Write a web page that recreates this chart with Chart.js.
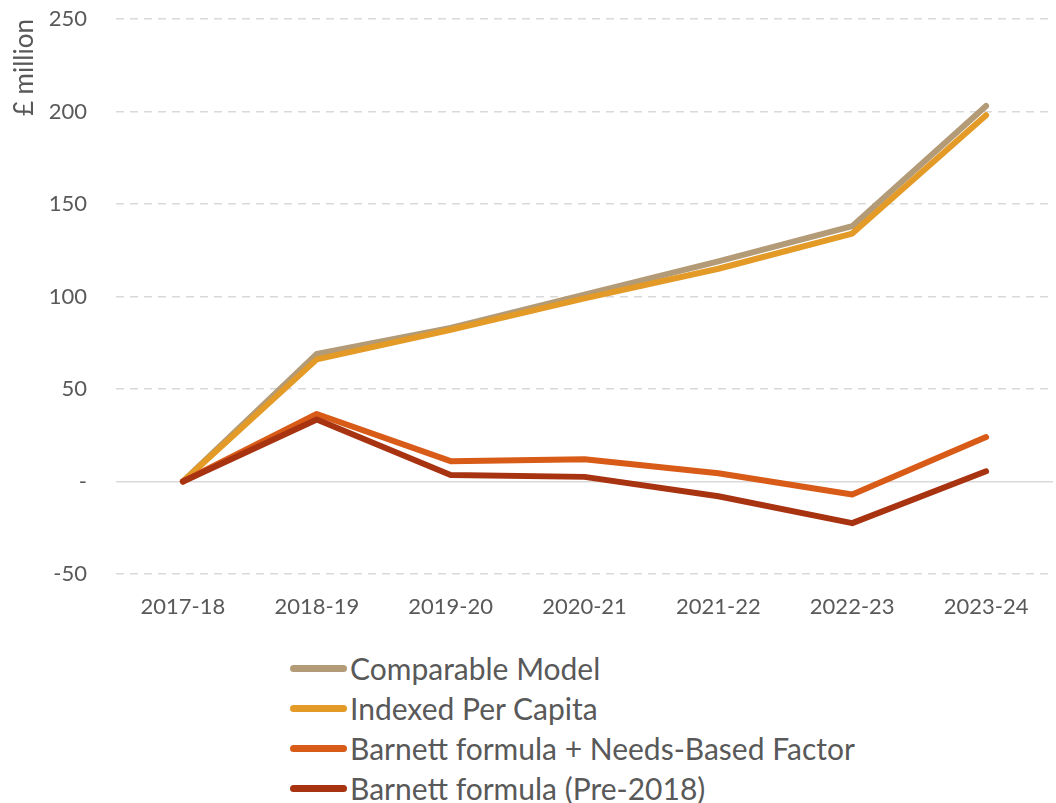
<!DOCTYPE html>
<html>
<head>
<meta charset="utf-8">
<script src="https://cdn.jsdelivr.net/npm/chart.js@4"></script>
<style>
  html, body { margin: 0; padding: 0; background: #ffffff; }
  #wrap { position: relative; width: 1056px; height: 803px; font-family: Lato, "Open Sans", sans-serif; }
  #chartBox { position: absolute; left: 0; top: 0; width: 1056px; height: 640px; }
  #legend { position: absolute; left: 290px; top: 648px; margin: 0; padding: 0; list-style: none; }
  #legend li { display: flex; align-items: center; height: 40px; font-size: 30px; color: #595959; white-space: nowrap; }
  #legend .sw { display: inline-block; width: 57px; height: 7px; border-radius: 3.5px; margin-right: 3px; }
</style>
</head>
<body>
<div id="wrap">
  <div id="chartBox"><canvas id="c"></canvas></div>
  <ul id="legend"></ul>
</div>
<script>
const categories = ["2017-18", "2018-19", "2019-20", "2020-21", "2021-22", "2022-23", "2023-24"];
const seriesNames = ["Comparable Model", "Indexed Per Capita", "Barnett formula + Needs-Based Factor", "Barnett formula (Pre-2018)"];
const comparableModel = [0, 69, 83, 101, 119, 138, 203];
const indexedPerCapita = [0, 66, 82, 99, 115, 134, 198];
const barnettNeeds = [0, 36.5, 11, 12, 4.5, -7, 24];
const barnettPre2018 = [0, 33.5, 3.5, 2.5, -8, -22.5, 5.5];
const seriesColors = ["#B39B78", "#E39A26", "#D85B18", "#A83311"];
const yTicks = { min: -50, max: 250, step: 50 };

const seriesData = [comparableModel, indexedPerCapita, barnettNeeds, barnettPre2018];

const datasets = seriesNames.map((name, i) => ({
  label: name,
  data: seriesData[i],
  borderColor: seriesColors[i],
  backgroundColor: seriesColors[i],
  borderWidth: 6,
  pointRadius: 0,
  pointHoverRadius: 0,
  tension: 0,
  fill: false,
  borderCapStyle: 'round',
  borderJoinStyle: 'round',
  order: seriesNames.length - i
}));

const chart = new Chart(document.getElementById('c'), {
  type: 'line',
  data: { labels: categories, datasets: datasets },
  options: {
    responsive: true,
    maintainAspectRatio: false,
    animation: false,
    layout: { padding: { top: 0, right: 3, left: 0, bottom: 0 } },
    plugins: {
      legend: { display: false },
      tooltip: { enabled: false }
    },
    scales: {
      x: {
        offset: true,
        grid: { display: false, drawTicks: false },
        border: { display: false },
        ticks: {
          color: '#595959',
          font: { family: 'Lato, "Open Sans", sans-serif', size: 22 },
          padding: 20,
          maxRotation: 0
        },
        afterFit: (s) => { s.height = 66; }
      },
      y: {
        min: yTicks.min,
        max: yTicks.max,
        grid: {
          drawTicks: false,
          lineWidth: 1.5,
          color: '#D9D9D9'
        },
        border: { display: false, dash: (ctx) => (ctx.tick && ctx.tick.value === 0 ? [] : [8, 6]) },
        ticks: {
          stepSize: yTicks.step,
          color: '#595959',
          font: { family: 'Lato, "Open Sans", sans-serif', size: 22 },
          padding: 29,
          callback: (v) => (v === 0 ? '-' : v)
        },
        title: {
          display: true,
          text: '£ million',
          align: 'end',
          color: '#595959',
          font: { family: 'Lato, "Open Sans", sans-serif', size: 26 },
          padding: { top: 9, bottom: 0 }
        },
        afterFit: (s) => { s.width = 116; s.paddingTop = 19; s.paddingBottom = 10; }
      }
    }
  }
});

const legendEl = document.getElementById('legend');
chart.data.datasets.forEach((ds) => {
  const li = document.createElement('li');
  const sw = document.createElement('span');
  sw.className = 'sw';
  sw.style.background = ds.borderColor;
  li.appendChild(sw);
  li.appendChild(document.createTextNode(ds.label));
  legendEl.appendChild(li);
});
</script>
</body>
</html>
